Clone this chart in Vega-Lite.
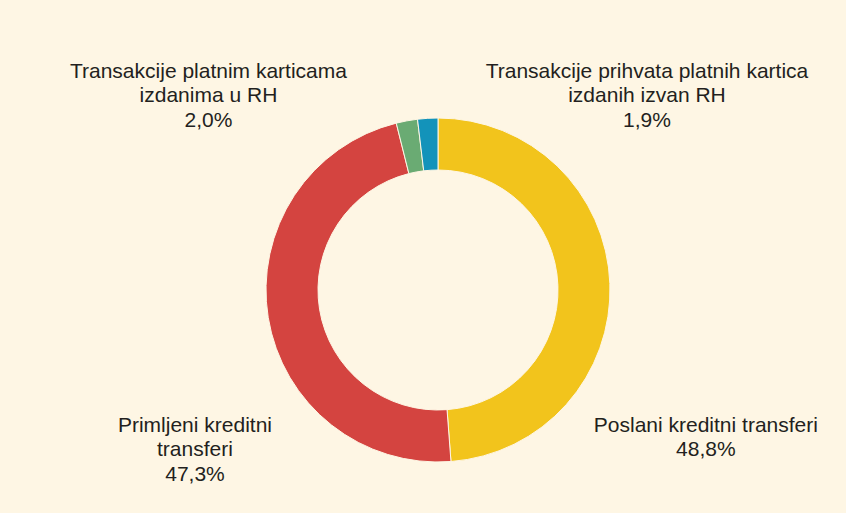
{
  "$schema": "https://vega.github.io/schema/vega-lite/v6.json",
  "width": 816,
  "height": 446,
  "autosize": {"type": "none"},
  "padding": {"left": 30, "top": 67, "right": 0, "bottom": 0},
  "background": "#FEF6E4",
  "view": {"stroke": null},
  "data": {
    "values": [
      {"name": "Poslani kreditni transferi", "label": "Poslani kreditni transferi\n48,8%", "value": 48.8},
      {"name": "Primljeni kreditni transferi", "label": "Primljeni kreditni\ntransferi\n47,3%", "value": 47.3},
      {"name": "Transakcije platnim karticama izdanima u RH", "label": "Transakcije platnim karticama\nizdanima u RH\n2,0%", "value": 2.0},
      {"name": "Transakcije prihvata platnih kartica izdanih izvan RH", "label": "Transakcije prihvata platnih kartica\nizdanih izvan RH\n1,9%", "value": 1.9}
    ]
  },
  "encoding": {
    "theta": {"field": "value", "type": "quantitative", "stack": true},
    "order": {"field": "name", "type": "nominal", "sort": "ascending"}
  },
  "layer": [
    {
      "mark": {"type": "arc", "outerRadius": 172, "innerRadius": 120, "stroke": "#FEF6E4", "strokeWidth": 1},
      "encoding": {
        "color": {
          "field": "name", "type": "nominal",
          "scale": {
            "domain": ["Poslani kreditni transferi", "Primljeni kreditni transferi", "Transakcije platnim karticama izdanima u RH", "Transakcije prihvata platnih kartica izdanih izvan RH"],
            "range": ["#F2C41C", "#D44440", "#6AAB73", "#1393BA"]
          },
          "legend": null
        }
      }
    },
    {
      "mark": {"type": "text", "radius": 200, "dx": 68, "dy": 149.5, "align": "center", "baseline": "alphabetic", "lineBreak": "\n", "fontSize": 21, "font": "Liberation Sans", "lineHeight": 24.5, "fill": "#231F20"},
      "encoding": {"text": {"condition": {"test": "datum.name === 'Poslani kreditni transferi'", "field": "label"}, "value": ""}}
    },
    {
      "mark": {"type": "text", "radius": 200, "dx": -45.6, "dy": 110, "align": "center", "baseline": "alphabetic", "lineBreak": "\n", "fontSize": 21, "font": "Liberation Sans", "lineHeight": 24.5, "fill": "#231F20"},
      "encoding": {"text": {"condition": {"test": "datum.name === 'Primljeni kreditni transferi'", "field": "label"}, "value": ""}}
    },
    {
      "mark": {"type": "text", "radius": 200, "dx": -193.3, "dy": -15.6, "align": "center", "baseline": "alphabetic", "lineBreak": "\n", "fontSize": 21, "font": "Liberation Sans", "lineHeight": 24.5, "fill": "#231F20"},
      "encoding": {"text": {"condition": {"test": "datum.name === 'Transakcije platnim karticama izdanima u RH'", "field": "label"}, "value": ""}}
    },
    {
      "mark": {"type": "text", "radius": 200, "dx": 220.9, "dy": -12.7, "align": "center", "baseline": "alphabetic", "lineBreak": "\n", "fontSize": 21, "font": "Liberation Sans", "lineHeight": 24.5, "fill": "#231F20"},
      "encoding": {"text": {"condition": {"test": "datum.name === 'Transakcije prihvata platnih kartica izdanih izvan RH'", "field": "label"}, "value": ""}}
    }
  ]
}
